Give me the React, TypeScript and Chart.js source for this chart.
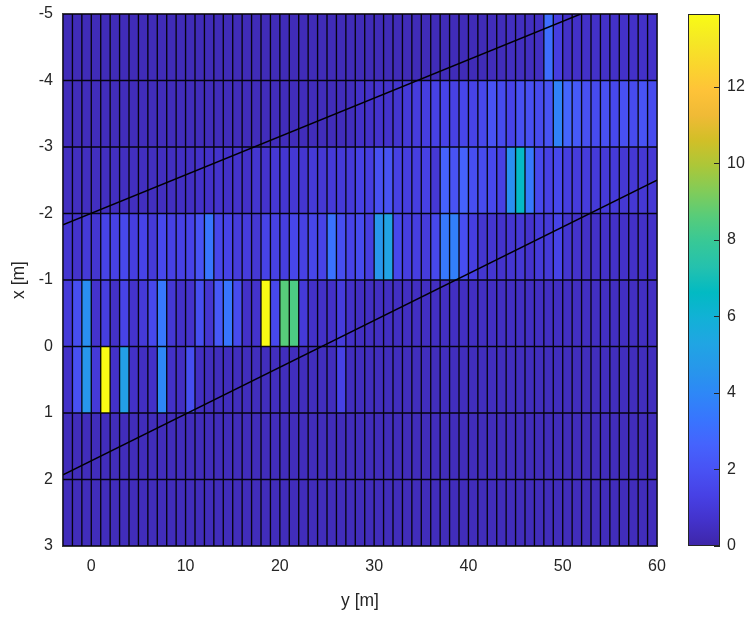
import React, { useEffect, useRef } from 'react';
import { Chart, registerables } from 'chart.js';
Chart.register(...registerables);

const FONT = "'Liberation Sans', Arial, Helvetica, sans-serif";
const TEXT = '#262626';

// column edges along y [m] (first left edge, last right edge), rows along x [m]
const colStart = -3;
const colEnd = 60;
const rowEdges = [-5, -4, -3, -2, -1, 0, 1, 2, 3];
const xTicks = [0, 10, 20, 30, 40, 50, 60];
const yTicks = [-5, -4, -3, -2, -1, 0, 1, 2, 3];
const cbTicks = [0, 2, 4, 6, 8, 10, 12];
const cMax = 13.9;

// cell values, one array per row (x from -5 to 3), columns y = -3 .. 59
const rowM5 = [
  0.3, 0.3, 0.3, 0.3, 0.3, 0.3, 0.3, 0.3, 0.3, 0.3,
  0.3, 0.3, 0.3, 0.3, 0.3, 0.3, 0.3, 0.3, 0.3, 0.3,
  0.3, 0.3, 0.3, 0.3, 0.3, 0.3, 0.3, 0.3, 0.3, 0.3,
  0.3, 0.3, 0.3, 0.3, 0.3, 0.3, 0.3, 0.3, 0.3, 0.3,
  0.3, 0.3, 0.3, 0.3, 0.3, 0.35, 0.35, 0.45, 0.45, 0.45,
  0.5, 3.0, 1.2, 0.6, 0.6, 0.6, 0.6, 0.6, 0.6, 0.6,
  0.6, 0.6, 0.6,
];
const rowM4 = [
  0.35, 0.35, 0.35, 0.35, 0.35, 0.35, 0.35, 0.35, 0.35, 0.35,
  0.35, 0.35, 0.35, 0.35, 0.35, 0.35, 0.35, 0.35, 0.35, 0.35,
  0.35, 0.35, 0.35, 0.35, 0.35, 0.35, 0.35, 0.35, 0.35, 0.35,
  0.4, 0.6, 0.6, 0.7, 0.7, 0.8, 1.0, 1.1, 1.2, 1.3,
  1.4, 1.3, 1.5, 1.4, 1.6, 2.0, 1.7, 1.4, 1.9, 1.9,
  1.7, 2.0, 3.8, 2.7, 2.3, 1.9, 1.7, 1.9, 1.6, 1.9,
  1.7, 2.0, 1.7,
];
const rowM3 = [
  0.45, 0.45, 0.45, 0.45, 0.45, 0.45, 0.45, 0.45, 0.45, 0.45,
  0.45, 0.45, 0.5, 0.5, 0.6, 0.6, 0.7, 0.6, 0.7, 0.6,
  0.8, 0.7, 0.9, 0.8, 0.9, 0.8, 1.0, 0.9, 1.0, 1.0,
  1.0, 1.3, 1.2, 1.9, 2.0, 1.3, 1.2, 1.2, 1.3, 0.9,
  2.6, 2.0, 2.6, 1.8, 1.7, 1.6, 1.3, 4.3, 6.5, 3.4,
  1.6, 1.3, 1.6, 1.2, 1.1, 1.1, 1.0, 1.0, 1.0, 0.9,
  0.9, 0.9, 0.9,
];
const rowM2 = [
  0.8, 0.7, 1.0, 0.8, 1.4, 1.3, 1.6, 1.2, 1.4, 1.0,
  1.6, 1.3, 1.3, 1.4, 2.0, 3.3, 1.5, 1.4, 1.1, 1.1,
  0.9, 1.4, 1.3, 1.2, 1.5, 1.3, 1.5, 1.4, 3.2, 1.8,
  1.4, 1.7, 1.2, 4.6, 5.2, 1.6, 1.2, 1.2, 1.1, 1.6,
  3.4, 3.7, 1.8, 1.2, 0.8, 0.8, 0.7, 0.8, 0.9, 0.7,
  1.0, 1.0, 1.4, 0.8, 0.7, 0.6, 0.6, 0.6, 0.6, 0.6,
  0.6, 0.6, 0.6,
];
const rowM1 = [
  1.0, 1.8, 4.3, 0.7, 1.2, 0.6, 1.4, 0.7, 1.0, 1.6,
  3.4, 0.9, 0.6, 0.7, 1.8, 0.8, 2.2, 3.3, 1.7, 0.6,
  0.7, 13.9, 1.6, 8.6, 8.4, 1.0, 0.6, 0.6, 0.6, 1.1,
  0.6, 0.5, 0.5, 0.5, 0.5, 0.5, 0.5, 0.5, 0.5, 0.5,
  0.5, 0.5, 0.5, 0.5, 0.5, 0.5, 0.5, 0.5, 0.5, 0.5,
  0.5, 0.5, 0.5, 0.5, 0.5, 0.5, 0.5, 0.5, 0.5, 0.5,
  0.5, 0.5, 0.5,
];
const row0 = [
  0.6, 1.9, 4.6, 1.0, 13.9, 0.6, 5.0, 0.6, 0.5, 0.6,
  4.0, 0.6, 0.5, 1.8, 0.5, 0.4, 0.4, 0.4, 0.4, 0.4,
  0.4, 0.4, 0.4, 0.4, 0.4, 0.4, 0.4, 0.4, 0.4, 1.3,
  0.4, 0.4, 0.4, 0.4, 0.4, 0.4, 0.4, 0.4, 0.4, 0.4,
  0.4, 0.4, 0.4, 0.4, 0.4, 0.4, 0.4, 0.4, 0.4, 0.4,
  0.4, 0.4, 0.4, 0.4, 0.4, 0.4, 0.4, 0.4, 0.4, 0.4,
  0.4, 0.4, 0.4,
];
const row1 = [
  0.35, 0.35, 0.35, 0.35, 0.35, 0.35, 0.35, 0.35, 0.35, 0.35,
  0.35, 0.35, 0.35, 0.35, 0.35, 0.35, 0.35, 0.35, 0.35, 0.35,
  0.35, 0.35, 0.35, 0.35, 0.35, 0.35, 0.35, 0.35, 0.35, 0.35,
  0.35, 0.35, 0.35, 0.35, 0.35, 0.35, 0.35, 0.35, 0.35, 0.35,
  0.35, 0.35, 0.35, 0.35, 0.35, 0.35, 0.35, 0.35, 0.35, 0.35,
  0.35, 0.35, 0.35, 0.35, 0.35, 0.35, 0.35, 0.35, 0.35, 0.35,
  0.35, 0.35, 0.35,
];
const row2 = [
  0.35, 0.35, 0.35, 0.35, 0.35, 0.35, 0.35, 0.35, 0.35, 0.35,
  0.35, 0.35, 0.35, 0.35, 0.35, 0.35, 0.35, 0.35, 0.35, 0.35,
  0.35, 0.35, 0.35, 0.35, 0.35, 0.35, 0.35, 0.35, 0.35, 0.35,
  0.35, 0.35, 0.35, 0.35, 0.35, 0.35, 0.35, 0.35, 0.35, 0.35,
  0.35, 0.35, 0.35, 0.35, 0.35, 0.35, 0.35, 0.35, 0.35, 0.35,
  0.35, 0.35, 0.35, 0.35, 0.35, 0.35, 0.35, 0.35, 0.35, 0.35,
  0.35, 0.35, 0.35,
];
const gridRows = [rowM5, rowM4, rowM3, rowM2, rowM1, row0, row1, row2];

// two black boundary lines (y [m], x [m]) endpoints
const line1Y = [-3, 51.9];
const line1X = [-1.83, -5];
const line2Y = [-3, 60];
const line2X = [1.93, -2.5];

// parula colormap anchors
const PARULA = [
  [0.2422, 0.1504, 0.6603], [0.2647, 0.1978, 0.7952], [0.2783, 0.2559, 0.8991],
  [0.2810, 0.3228, 0.9579], [0.2699, 0.3892, 0.9906], [0.2206, 0.4603, 0.9973],
  [0.1786, 0.5289, 0.9682], [0.1540, 0.5902, 0.9218], [0.1248, 0.6459, 0.8883],
  [0.0689, 0.6948, 0.8394], [0.0067, 0.7312, 0.7660], [0.1408, 0.7584, 0.6842],
  [0.2161, 0.7843, 0.5923], [0.3406, 0.8008, 0.4789], [0.5044, 0.7993, 0.3480],
  [0.6720, 0.7793, 0.2227], [0.8203, 0.7498, 0.1535], [0.9393, 0.7288, 0.2100],
  [0.9970, 0.7659, 0.2199], [0.9786, 0.8386, 0.1766], [0.9597, 0.9135, 0.1423],
  [0.9769, 0.9839, 0.0805],
];
const rgb = (c: number[]) =>
  `rgb(${Math.round(c[0] * 255)},${Math.round(c[1] * 255)},${Math.round(c[2] * 255)})`;
function parula(v: number) {
  const t = Math.min(1, Math.max(0, v / cMax)) * (PARULA.length - 1);
  const i = Math.min(PARULA.length - 2, Math.floor(t));
  const f = t - i;
  const a = PARULA[i], b = PARULA[i + 1];
  return rgb([a[0] + (b[0] - a[0]) * f, a[1] + (b[1] - a[1]) * f, a[2] + (b[2] - a[2]) * f]);
}

const heatmapPlugin = {
  id: 'heatmap',
  beforeDatasetsDraw(chart: any) {
    const { ctx, chartArea: a } = chart;
    const xs = chart.scales.x, ys = chart.scales.y;
    ctx.save();
    ctx.beginPath();
    ctx.rect(a.left, a.top, a.right - a.left, a.bottom - a.top);
    ctx.clip();
    gridRows.forEach((vals, ri) => {
      const py0 = ys.getPixelForValue(rowEdges[ri]);
      const py1 = ys.getPixelForValue(rowEdges[ri + 1]);
      vals.forEach((v, ci) => {
        const px0 = xs.getPixelForValue(colStart + ci);
        const px1 = xs.getPixelForValue(colStart + ci + 1);
        ctx.fillStyle = parula(v);
        ctx.fillRect(px0, py0, px1 - px0 + 0.5, py1 - py0 + 0.5);
      });
    });
    // cell edges
    ctx.strokeStyle = 'rgba(0,0,0,0.92)';
    ctx.lineWidth = 1.35;
    ctx.beginPath();
    for (let c = colStart; c <= colEnd; c++) {
      const px = xs.getPixelForValue(c);
      ctx.moveTo(px, a.top);
      ctx.lineTo(px, a.bottom);
    }
    rowEdges.forEach((r) => {
      const py = ys.getPixelForValue(r);
      ctx.moveTo(a.left, py);
      ctx.lineTo(a.right, py);
    });
    ctx.stroke();
    ctx.restore();
  },
  afterDraw(chart: any) {
    const { ctx, chartArea: a } = chart;
    ctx.save();
    ctx.strokeStyle = '#3a3a3a';
    ctx.lineWidth = 1;
    ctx.strokeRect(Math.round(a.left) - 0.5, Math.round(a.top) - 0.5, Math.round(a.right - a.left) + 1, Math.round(a.bottom - a.top) + 1);
    ctx.restore();
  },
};

const colorbarPlugin = {
  id: 'cbframe',
  afterDraw(chart: any) {
    const { ctx, chartArea: a } = chart;
    const ys = chart.scales.y;
    ctx.save();
    ctx.strokeStyle = '#262626';
    ctx.lineWidth = 1;
    ctx.strokeRect(Math.round(a.left) + 0.5, Math.round(a.top) + 0.5, Math.round(a.right - a.left) - 1, Math.round(a.bottom - a.top) - 1);
    ctx.beginPath();
    cbTicks.forEach((t) => {
      const py = Math.round(ys.getPixelForValue(t)) + 0.5;
      ctx.moveTo(a.right - 6, py);
      ctx.lineTo(a.right, py);
    });
    ctx.stroke();
    ctx.restore();
  },
};

const zeroPadV = (s: any) => { s.paddingTop = 0; s.paddingBottom = 0; };
const zeroPadH = (s: any) => { s.paddingLeft = 0; s.paddingRight = 0; };

export default function App() {
  const mainRef = useRef<HTMLCanvasElement>(null);
  const cbRef = useRef<HTMLCanvasElement>(null);

  useEffect(() => {
    const tickFont = { family: FONT, size: 16 };
    const titleFont = { family: FONT, size: 17.5 };
    const main = new Chart(mainRef.current!, {
      type: 'scatter',
      data: {
        datasets: [
          {
            data: line1Y.map((y, i) => ({ x: y, y: line1X[i] })),
            showLine: true,
            borderColor: '#000',
            borderWidth: 1.4,
            pointRadius: 0,
          },
          {
            data: line2Y.map((y, i) => ({ x: y, y: line2X[i] })),
            showLine: true,
            borderColor: '#000',
            borderWidth: 1.4,
            pointRadius: 0,
          },
        ],
      },
      options: {
        responsive: false,
        animation: false,
        events: [],
        layout: { padding: { left: 0, top: 14, right: 23, bottom: 0 } },
        plugins: { legend: { display: false }, tooltip: { enabled: false } },
        scales: {
          x: {
            type: 'linear',
            position: 'bottom',
            min: colStart,
            max: colEnd,
            afterBuildTicks: (s: any) => { s.ticks = xTicks.map((v) => ({ value: v })); },
            afterFit: (s: any) => { s.height = 77; zeroPadH(s); },
            grid: { display: false, drawTicks: false },
            border: { display: false },
            ticks: { font: tickFont, color: TEXT, padding: 11, maxRotation: 0, autoSkip: false },
            title: { display: true, text: 'y [m]', font: titleFont, color: TEXT, padding: { top: 0, bottom: 11 } },
          },
          y: {
            type: 'linear',
            position: 'left',
            reverse: true,
            min: rowEdges[0],
            max: rowEdges[rowEdges.length - 1],
            afterBuildTicks: (s: any) => { s.ticks = yTicks.map((v) => ({ value: v })); },
            afterFit: (s: any) => { s.width = 63; zeroPadV(s); },
            grid: { display: false, drawTicks: false },
            border: { display: false },
            ticks: { font: tickFont, color: TEXT, padding: 10, autoSkip: false },
            title: { display: true, text: 'x [m]', font: titleFont, color: TEXT, padding: { top: 9, bottom: 0 } },
          },
        },
      },
      plugins: [heatmapPlugin],
    } as any);

    const cb = new Chart(cbRef.current!, {
      type: 'bar',
      data: {
        labels: ['c'],
        datasets: [
          {
            data: [[0, cMax]] as any,
            barPercentage: 1,
            categoryPercentage: 1,
            borderWidth: 0,
            backgroundColor: (c: any) => {
              const ch = c.chart;
              const a = ch.chartArea;
              if (!a) return rgb(PARULA[0]);
              const g = ch.ctx.createLinearGradient(0, a.bottom, 0, a.top);
              PARULA.forEach((p, i) => g.addColorStop(i / (PARULA.length - 1), rgb(p)));
              return g;
            },
          },
        ],
      },
      options: {
        responsive: false,
        animation: false,
        events: [],
        layout: { padding: { left: 8, top: 14, right: 0, bottom: 77 } },
        plugins: { legend: { display: false }, tooltip: { enabled: false } },
        scales: {
          x: { display: false },
          y: {
            position: 'right',
            min: 0,
            max: cMax,
            afterBuildTicks: (s: any) => { s.ticks = cbTicks.map((v) => ({ value: v })); },
            afterFit: (s: any) => { s.width = 36; zeroPadV(s); },
            grid: { display: false, drawTicks: false },
            border: { display: false },
            ticks: { font: tickFont, color: TEXT, padding: 7, autoSkip: false },
          },
        },
      },
      plugins: [colorbarPlugin],
    } as any);

    return () => {
      main.destroy();
      cb.destroy();
    };
  }, []);

  return (
    <div style={{ position: 'fixed', left: 0, top: 0, width: 756, height: 623, background: '#fff' }}>
      <canvas ref={mainRef} width={680} height={623} style={{ position: 'absolute', left: 0, top: 0 }} />
      <canvas ref={cbRef} width={76} height={623} style={{ position: 'absolute', left: 680, top: 0 }} />
    </div>
  );
}
